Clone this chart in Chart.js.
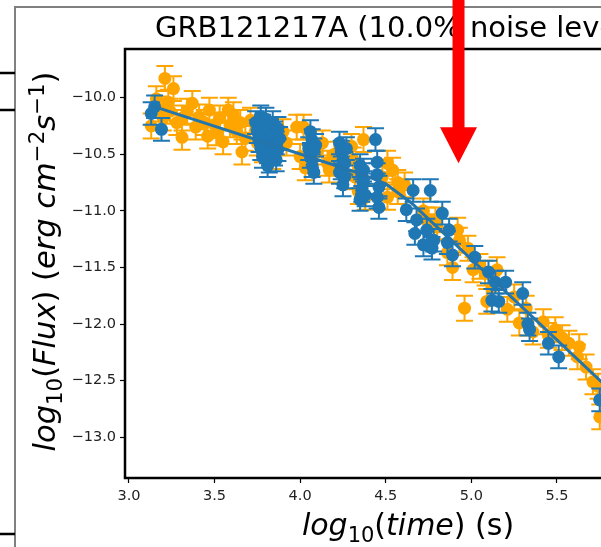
<!DOCTYPE html>
<html><head><meta charset="utf-8">
<style>html,body{margin:0;padding:0;overflow:hidden;background:#fff;width:601px;height:547px}canvas{display:block}</style>
<script src="https://cdn.jsdelivr.net/npm/chart.js@4.4.1/dist/chart.umd.min.js"></script>
</head><body><canvas id="c" width="720" height="547"></canvas>
<script>
const titleText = "GRB121217A (10.0% noise level)";
const xTicks = [3.0, 3.5, 4.0, 4.5, 5.0, 5.5, 6.0];
const yTicks = [-13.0, -12.5, -12.0, -11.5, -11.0, -10.5, -10.0];
const xMin = 2.977, xMax = 6.277, yMin = -13.36, yMax = -9.57;

const orangeX = [3.13,3.16,3.18,3.20,3.21,3.23,3.24,3.26,3.28,3.31,3.31,3.34,3.37,3.39,3.41,3.44,3.46,3.47,3.50,3.51,3.53,3.55,3.58,3.59,3.61,3.63,3.65,3.66,3.68,3.71,3.75,3.78,3.84,3.90,3.92,3.98,4.00,4.02,4.03,4.10,4.13,4.16,4.17,4.20,4.30,4.31,4.32,4.34,4.37,4.38,4.48,4.51,4.51,4.54,4.57,4.57,4.61,4.72,4.74,4.79,4.80,4.86,4.89,4.92,4.93,4.96,4.98,5.01,5.05,5.08,5.09,5.12,5.15,5.21,5.25,5.28,5.32,5.36,5.42,5.45,5.49,5.53,5.57,5.62,5.63,5.67,5.71,5.74,5.75,5.86,5.95,6.05];
const orangeY = [-10.25,-10.01,-10.10,-10.18,-9.83,-10.04,-10.12,-9.92,-10.22,-10.18,-10.35,-10.12,-10.05,-10.26,-10.17,-10.22,-10.34,-10.11,-10.24,-10.31,-10.18,-10.39,-10.11,-10.24,-10.15,-10.30,-10.22,-10.48,-10.36,-10.20,-10.40,-10.46,-10.52,-10.30,-10.40,-10.26,-10.52,-10.26,-10.62,-10.48,-10.40,-10.58,-10.64,-10.50,-10.43,-10.55,-10.70,-10.83,-10.37,-10.88,-10.70,-10.58,-10.88,-10.64,-10.75,-10.83,-10.77,-11.00,-11.08,-11.08,-11.14,-11.37,-11.50,-11.17,-11.26,-11.86,-11.33,-11.52,-11.49,-11.55,-11.80,-11.68,-11.52,-11.87,-11.76,-11.99,-11.86,-12.07,-11.98,-12.10,-12.05,-12.12,-12.17,-12.29,-12.20,-12.38,-12.51,-12.55,-12.82,-12.70,-12.95,-13.10];
const orangeErr = 0.11;

const blueX = [3.13,3.15,3.19,3.74,3.75,3.76,3.77,3.77,3.78,3.78,3.79,3.80,3.80,3.81,3.81,3.82,3.82,3.83,3.84,3.84,3.85,3.85,3.86,3.86,3.87,3.87,3.88,4.05,4.06,4.06,4.07,4.07,4.08,4.08,4.09,4.23,4.23,4.24,4.24,4.25,4.25,4.26,4.26,4.27,4.35,4.35,4.36,4.36,4.37,4.37,4.38,4.44,4.45,4.45,4.46,4.45,4.46,4.62,4.66,4.67,4.68,4.72,4.74,4.76,4.77,4.78,4.83,4.86,4.87,4.89,5.02,5.10,5.12,5.14,5.16,5.20,5.30,5.33,5.34,5.45,5.51,5.75,5.90,6.08];
const blueY = [-10.14,-10.08,-10.28,-10.22,-10.30,-10.38,-10.45,-10.17,-10.25,-10.52,-10.33,-10.41,-10.19,-10.48,-10.60,-10.28,-10.56,-10.36,-10.44,-10.22,-10.50,-10.31,-10.40,-10.55,-10.46,-10.27,-10.36,-10.45,-10.30,-10.52,-10.38,-10.60,-10.46,-10.66,-10.42,-10.40,-10.66,-10.48,-10.62,-10.55,-10.77,-10.58,-10.70,-10.45,-10.60,-10.90,-10.68,-10.82,-10.64,-10.75,-10.86,-10.37,-10.57,-10.68,-10.79,-10.88,-10.97,-10.99,-10.82,-11.20,-11.08,-11.30,-11.17,-10.82,-11.33,-11.26,-11.02,-11.28,-11.17,-11.39,-11.41,-11.54,-11.79,-11.63,-11.80,-11.63,-11.73,-12.00,-12.05,-12.17,-12.29,-12.67,-12.88,-13.15];
const blueErr = 0.10;

const fitX = [3.13, 4.35, 4.5, 4.65, 6.3];
const fitY = [-10.07, -10.67, -10.76, -10.93, -13.28];

const arrowX = 4.925, arrowTipY = -10.58;

const ORANGE = '#FFA500', BLUE = '#1f77b4', FIT = '#2475ab';
const FONT = '"DejaVu Sans", "Liberation Sans", sans-serif';
const fmt = v => (v < 0 ? '\u2212' : '') + Math.abs(v).toFixed(1);
const toPts = (xs, ys) => xs.map((x, i) => ({x: x, y: ys[i]}));

function partFont(p, size) { return (p.i ? 'oblique ' : '') + (size * (p.s || 1)) + 'px ' + FONT; }
function richWidth(ctx, parts, size) {
  let w = 0; for (const p of parts) { ctx.font = partFont(p, size); w += ctx.measureText(p.t).width; } return w;
}
function drawRich(ctx, parts, size, cx, base) {
  let x = cx - richWidth(ctx, parts, size) / 2;
  ctx.textAlign = 'left'; ctx.textBaseline = 'alphabetic';
  for (const p of parts) {
    ctx.font = partFont(p, size);
    ctx.fillText(p.t, x, base + (p.dy || 0) * size);
    x += ctx.measureText(p.t).width;
  }
}
const xLabelParts = [{t:'log', i:1}, {t:'10', s:0.7, dy:0.22}, {t:'('}, {t:'time', i:1}, {t:')'}, {t:' (s)'}];
const yLabelParts = [{t:'log', i:1}, {t:'10', s:0.7, dy:0.22}, {t:'('}, {t:'Flux', i:1}, {t:')'}, {t:' ('}, {t:'erg', i:1}, {t:' '}, {t:'cm', i:1}, {t:'\u22122', s:0.7, dy:-0.36}, {t:'s', i:1}, {t:'\u22121', s:0.7, dy:-0.36}, {t:')'}];

const errorBars = {
  id: 'errorBars',
  beforeDatasetDraw(chart, args) {
    const ds = chart.data.datasets[args.index];
    if (ds.err === undefined) return;
    const xs = chart.scales.x, ys = chart.scales.y, ctx = chart.ctx, a = chart.chartArea;
    ctx.save();
    ctx.beginPath(); ctx.rect(a.left, a.top, a.right - a.left, a.bottom - a.top); ctx.clip();
    ctx.strokeStyle = ds.backgroundColor; ctx.lineWidth = 2;
    const cap = 8.5;
    ds.data.forEach(p => {
      const px = xs.getPixelForValue(p.x), y1 = ys.getPixelForValue(p.y + ds.err), y2 = ys.getPixelForValue(p.y - ds.err);
      ctx.beginPath();
      ctx.moveTo(px, y1); ctx.lineTo(px, y2);
      ctx.moveTo(px - cap, y1); ctx.lineTo(px + cap, y1);
      ctx.moveTo(px - cap, y2); ctx.lineTo(px + cap, y2);
      ctx.stroke();
    });
    ctx.restore();
  }
};

const decor = {
  id: 'decor',
  beforeDraw(chart) {
    const ctx = chart.ctx;
    ctx.save();
    ctx.fillStyle = '#fff'; ctx.fillRect(0, 0, chart.width, chart.height);
    ctx.strokeStyle = '#808080'; ctx.lineWidth = 2;
    ctx.beginPath(); ctx.moveTo(15, 547); ctx.lineTo(15, 7); ctx.lineTo(chart.width, 7); ctx.stroke();
    ctx.strokeStyle = '#000'; ctx.lineWidth = 2.7;
    ctx.beginPath();
    [73, 110, 534].forEach(y => { ctx.moveTo(0, y); ctx.lineTo(15, y); });
    ctx.stroke();
    ctx.restore();
  },
  afterDraw(chart) {
    const ctx = chart.ctx, a = chart.chartArea;
    ctx.save();
    ctx.strokeStyle = '#000'; ctx.lineWidth = 2.5;
    ctx.strokeRect(a.left, a.top, a.right - a.left, a.bottom - a.top);
    ctx.fillStyle = '#000';
    ctx.font = '29px ' + FONT; ctx.textAlign = 'left'; ctx.textBaseline = 'alphabetic';
    ctx.fillText(titleText, 155, 37);
    drawRich(ctx, xLabelParts, 30, 408, 535);
    ctx.save();
    ctx.translate(55, (a.top + a.bottom) / 2 - 2);
    ctx.rotate(-Math.PI / 2);
    drawRich(ctx, yLabelParts, 30.5, 0, 0);
    ctx.restore();
    // red arrow
    const ax = chart.scales.x.getPixelForValue(arrowX), tip = chart.scales.y.getPixelForValue(arrowTipY);
    ctx.fillStyle = '#ff0000';
    ctx.fillRect(ax - 6, 0, 12, tip - 36 + 1);
    ctx.beginPath(); ctx.moveTo(ax - 18.5, tip - 36); ctx.lineTo(ax + 18.5, tip - 36); ctx.lineTo(ax, tip); ctx.closePath(); ctx.fill();
    ctx.restore();
  }
};

const tickFont = {family: FONT, size: 14.5};
new Chart(document.getElementById('c'), {
  type: 'scatter',
  data: {
    datasets: [
      {type: 'line', data: toPts(fitX, fitY), borderColor: FIT, borderWidth: 3, pointRadius: 0, fill: false, tension: 0, showLine: true, order: 1},
      {data: toPts(blueX, blueY), err: blueErr, backgroundColor: BLUE, borderWidth: 0, pointRadius: 6.5, pointHoverRadius: 6.5, order: 2},
      {data: toPts(orangeX, orangeY), err: orangeErr, backgroundColor: ORANGE, borderWidth: 0, pointRadius: 6.5, pointHoverRadius: 6.5, order: 3}
    ]
  },
  options: {
    responsive: false, animation: false, devicePixelRatio: 1,
    layout: {padding: {left: 0, top: 49, right: 30, bottom: 0}},
    plugins: {legend: {display: false}, title: {display: false}, tooltip: {enabled: false}},
    events: [],
    scales: {
      x: {
        type: 'linear', min: xMin, max: xMax,
        afterBuildTicks: s => { s.ticks = xTicks.map(v => ({value: v})); },
        afterFit: s => { s.height = 69; },
        ticks: {font: tickFont, color: '#222', padding: 5, maxRotation: 0, autoSkip: false, callback: v => fmt(v)},
        grid: {drawOnChartArea: false, drawTicks: true, tickLength: 5, tickColor: '#000', tickWidth: 1.2},
        border: {display: false}
      },
      y: {
        type: 'linear', min: yMin, max: yMax,
        afterBuildTicks: s => { s.ticks = yTicks.map(v => ({value: v})); },
        afterFit: s => { s.width = 125; },
        ticks: {font: tickFont, color: '#222', padding: 4, autoSkip: false, callback: v => fmt(v)},
        grid: {drawOnChartArea: false, drawTicks: true, tickLength: 5, tickColor: '#000', tickWidth: 1.2},
        border: {display: false}
      }
    }
  },
  plugins: [errorBars, decor]
});
</script>
</body></html>
